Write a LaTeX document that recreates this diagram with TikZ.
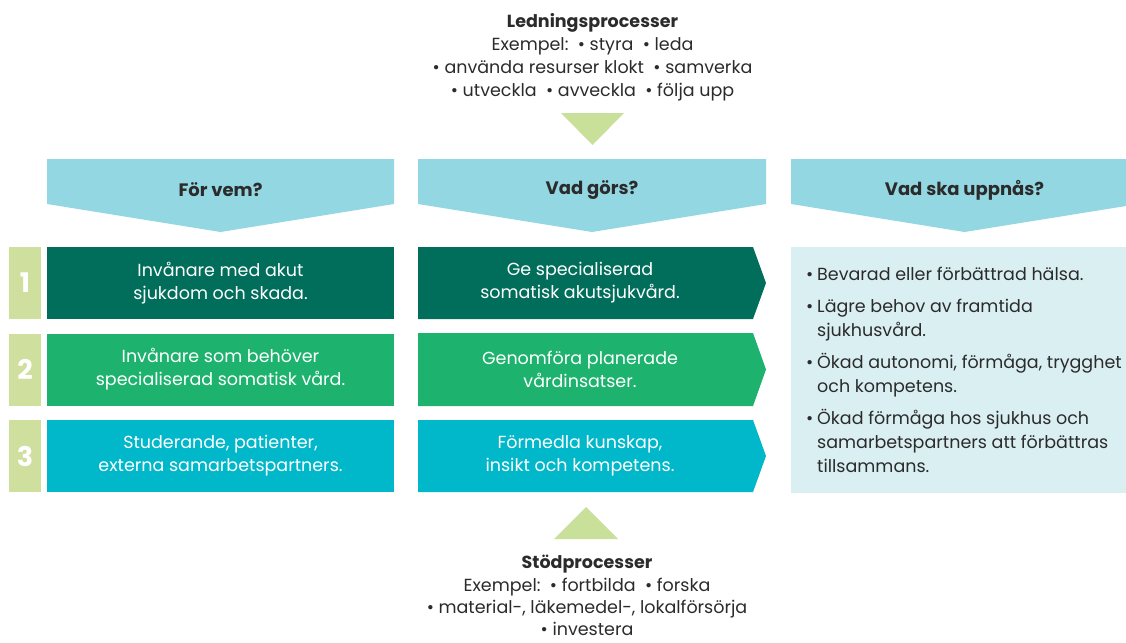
\documentclass[tikz,border=0pt]{standalone}
\usepackage{fontspec}
\setmainfont{Poppins}
\usepackage{xcolor}
\usepackage{tikz}

\definecolor{rubrik}{HTML}{93D7E3}
\definecolor{rad1}{HTML}{006E5A}
\definecolor{rad2}{HTML}{1EB26F}
\definecolor{rad3}{HTML}{00B8CA}
\definecolor{siffra}{HTML}{CFE09E}
\definecolor{pil}{HTML}{C9E09B}
\definecolor{malfarg}{HTML}{DAEFF2}
\definecolor{morktext}{HTML}{2B2B2B}

\begin{document}
\begin{tikzpicture}[x=1pt, y=-1pt,
  every node/.style={inner sep=0pt, align=center, text=white, font=\fontsize{17.5}{23}\selectfont},
  radbox/.style={minimum width=347pt, minimum height=72pt},
  sifferbox/.style={fill=siffra, minimum width=32pt, minimum height=72pt, font=\fontsize{27}{27}\selectfont\bfseries},
  rubriktext/.style={text=morktext, font=\fontsize{18}{23}\selectfont\bfseries},
  grafext/.style={text=morktext}]
  \useasboundingbox (0,0) rectangle (1126,642);

  % Ledningsprocesser
  \node[grafext, anchor=north] (ledning) at (592.5,13.5) {\textbf{Ledningsprocesser}\\
    Exempel:\ \ • styra\ \ • leda\\
    • använda resurser klokt\ \ • samverka\\
    • utveckla\ \ • avveckla\ \ • följa upp};
  \fill[pil] (561,113) -- (624,113) -- (592.5,145) -- cycle;

  % Rubriker
  \fill[rubrik] (47,159) -- (394,159) -- (394,204) -- (220.5,232) -- (47,204) -- cycle;
  \fill[rubrik] (418,159) -- (766,159) -- (766,204) -- (592,232) -- (418,204) -- cycle;
  \fill[rubrik] (791,159) -- (1126,159) -- (1126,206) -- (964.5,232) -- (791,204) -- cycle;
  \node[rubriktext] (vem) at (220.5,190) {För vem?};
  \node[rubriktext] (gors) at (592,190) {Vad görs?};
  \node[rubriktext] (uppnas) at (964.5,190) {Vad ska uppnås?};

  % Rad 1
  \node[sifferbox] (n1) at (25,283) {1};
  \node[radbox, fill=rad1] (vem1) at (220.5,283) {Invånare med akut\\sjukdom och skada.};
  \fill[rad1] (418,247) -- (753,247) -- (766,283) -- (753,319) -- (418,319) -- cycle;
  \node (gors1) at (580,283) {Ge specialiserad\\somatisk akutsjukvård.};

  % Rad 2
  \node[sifferbox] (n2) at (25,369.5) {2};
  \node[radbox, fill=rad2] (vem2) at (220.5,369.5) {Invånare som behöver\\specialiserad somatisk vård.};
  \fill[rad2] (418,333) -- (753,333) -- (766,369.5) -- (753,406) -- (418,406) -- cycle;
  \node (gors2) at (580,369.5) {Genomföra planerade\\vårdinsatser.};

  % Rad 3
  \node[sifferbox] (n3) at (25,456) {3};
  \node[radbox, fill=rad3] (vem3) at (220.5,456) {Studerande, patienter,\\externa samarbetspartners.};
  \fill[rad3] (418,420) -- (753,420) -- (766,456) -- (753,492) -- (418,492) -- cycle;
  \node (gors3) at (580,456) {Förmedla kunskap,\\insikt och kompetens.};

  % Vad ska uppnås
  \node[fill=malfarg, minimum width=335pt, minimum height=246pt] (malruta) at (958.5,370) {};
  \node[grafext, anchor=north west, align=left, font=\fontsize{17.5}{24}\selectfont] (mal) at (806,263) {%
    \begin{tabular}{@{}p{11pt}@{}l@{}}
      • & Bevarad eller förbättrad hälsa.\\[8pt]
      • & Lägre behov av framtida\\
        & sjukhusvård.\\[8pt]
      • & Ökad autonomi, förmåga, trygghet\\
        & och kompetens.\\[8pt]
      • & Ökad förmåga hos sjukhus och\\
        & samarbetspartners att förbättras\\
        & tillsammans.
    \end{tabular}};

  % Stödprocesser
  \fill[pil] (554,539) -- (618,539) -- (586,507) -- cycle;
  \node[grafext, anchor=north, font=\fontsize{17.5}{22.3}\selectfont] (stod) at (587,555) {\textbf{Stödprocesser}\\
    Exempel:\ \ • fortbilda\ \ • forska\\
    • material-, läkemedel-, lokalförsörja\\
    • investera};
\end{tikzpicture}
\end{document}
